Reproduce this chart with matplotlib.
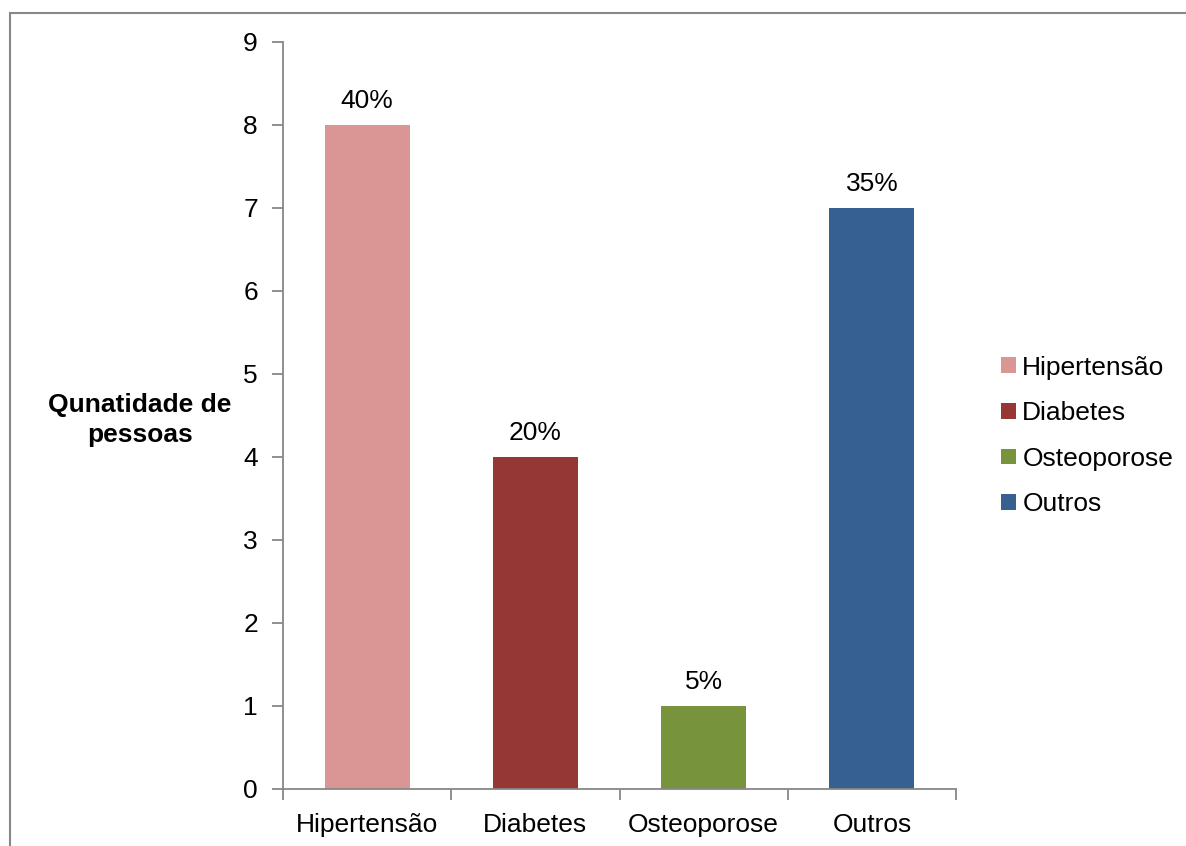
import matplotlib.pyplot as plt
from matplotlib.patches import Rectangle, Patch

plt.rcParams['font.family'] = ['Liberation Sans', 'DejaVu Sans']

categorias = ['Hipertensão', 'Diabetes', 'Osteoporose', 'Outros']
quantidade = [8, 4, 1, 7]
percentual = ['40%', '20%', '5%', '35%']
cores = ['#D99694', '#953735', '#77933C', '#376092']

fig = plt.figure(figsize=(11.86, 8.46), dpi=100)
ax = fig.add_axes([0.2386, 0.0674, 0.5675, 0.883])

# moldura cinza do gráfico
fig.patches.append(Rectangle((10 / 1186, -0.1), 1.1, 1 - 13 / 846 + 0.1,
                             transform=fig.transFigure, fill=False,
                             edgecolor='#878787', linewidth=1.5))

x = range(len(categorias))
ax.bar(x, quantidade, width=0.506, color=cores)
for xi, q, p in zip(x, quantidade, percentual):
    ax.text(xi, q + 0.15, p, ha='center', va='bottom', fontsize=19)

ax.set_xlim(-0.5, 3.5)
ax.set_ylim(0, 9)
ax.set_yticks(range(10))
ax.set_xticks([-0.5, 0.5, 1.5, 2.5, 3.5])
ax.set_xticklabels([])
ax.set_xticks(list(x), minor=True)
ax.set_xticklabels(categorias, minor=True)
ax.tick_params(axis='x', which='minor', length=0, labelsize=19, pad=17)
ax.tick_params(axis='x', which='major', length=8, color='#878787', width=1.3)
ax.tick_params(axis='y', length=8, color='#878787', width=1.3, labelsize=19, pad=10)

for s in ['top', 'right']:
    ax.spines[s].set_visible(False)
for s in ['left', 'bottom']:
    ax.spines[s].set_color('#878787')
    ax.spines[s].set_linewidth(1.3)

fig.text(140 / 1186, 1 - 420 / 846, 'Qunatidade de\npessoas', ha='center', va='center',
         fontsize=19, fontweight='bold', linespacing=1.35)

handles = [Patch(facecolor=c) for c in cores]
fig.legend(handles, categorias, loc='center left',
           bbox_to_anchor=(988 / 1186, 1 - 436 / 846), frameon=False,
           fontsize=19, handlelength=0.55, handleheight=0.55, handletextpad=0.25,
           labelspacing=0.82, borderpad=0)

fig.savefig('out.png', dpi=100)
